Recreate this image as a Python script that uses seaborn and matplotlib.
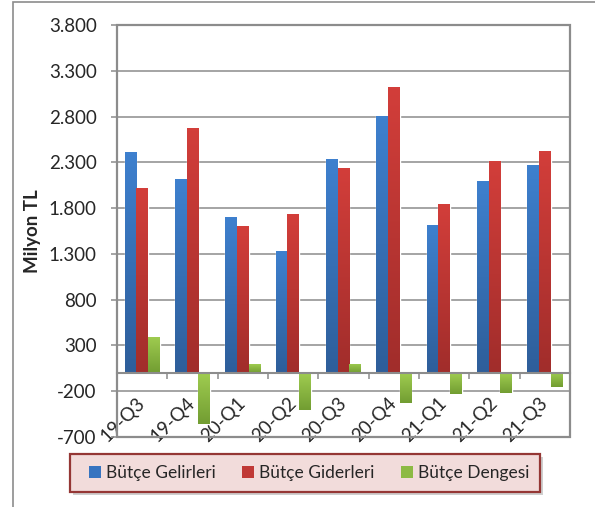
import numpy as np
import pandas as pd
import matplotlib
matplotlib.use("Agg")
import matplotlib.pyplot as plt
from matplotlib.patches import Rectangle, Patch
from matplotlib.colors import LinearSegmentedColormap, to_hex
from matplotlib.ticker import FuncFormatter, FixedLocator
import seaborn as sns

quarters = ["19-Q3", "19-Q4", "20-Q1", "20-Q2", "20-Q3", "20-Q4", "21-Q1", "21-Q2", "21-Q3"]
gelir = [2410, 2115, 1700, 1330, 2333, 2801, 1613, 2093, 2267]
gider = [2015, 2670, 1602, 1733, 2234, 3128, 1842, 2311, 2420]
denge = [395, -555, 98, -403, 99, -327, -229, -218, -153]
series = ["Bütçe Gelirleri", "Bütçe Giderleri", "Bütçe Dengesi"]
colors = ["#3774C0", "#C03936", "#8DBA44"]
# top -> bottom gradient per series
grads = {"#3774c0": ("#3E80CE", "#2E5E9A"),
         "#c03936": ("#D23E3A", "#A12D2B"),
         "#8dba44": ("#9FCC50", "#729D32")}
yticks = list(range(-700, 3801, 500))

df = pd.DataFrame({
    "quarter": quarters * 3,
    "value": gelir + gider + denge,
    "series": [series[0]] * 9 + [series[1]] * 9 + [series[2]] * 9,
})

sns.set_style("white")
plt.rcParams["font.family"] = ["Lato", "DejaVu Sans"]

W, H = 595, 507
fig = plt.figure(figsize=(W / 100, H / 100), dpi=100)
ax = fig.add_axes([117 / W, 1 - 437 / H, 453 / W, 412 / H])

sns.barplot(data=df, x="quarter", y="value", hue="series", palette=colors,
            width=0.7, gap=0, ax=ax, saturation=1, legend=False)

# gradient fill for bars
for bar in list(ax.patches):
    key = to_hex(bar.get_facecolor())
    if key not in grads:
        continue
    x, y = bar.get_x(), bar.get_y()
    w, h = bar.get_width(), bar.get_height()
    y0, y1 = min(y, y + h), max(y, y + h)
    cmap = LinearSegmentedColormap.from_list("g", [grads[key][1], grads[key][0]])
    grad = np.linspace(1, 0, 64).reshape(-1, 1)
    im = ax.imshow(grad, extent=[x, x + w, y0, y1], cmap=cmap, aspect="auto",
                   origin="upper", zorder=bar.get_zorder(), interpolation="bilinear")
    im.set_clip_path(bar)
    bar.set_facecolor("none")

grid_c = "#8C8C8C"
ax.set_ylim(-700, 3800)
ax.set_xlim(-0.5, len(quarters) - 0.5)
ax.set_yticks(yticks)
ax.yaxis.set_major_formatter(FuncFormatter(lambda v, p: f"{v:,.0f}".replace(",", ".")))
ax.grid(axis="y", color=grid_c, lw=1.1)
ax.set_axisbelow(True)

for s in ["left", "top", "right"]:
    ax.spines[s].set_visible(False)
ax.spines["bottom"].set_position(("data", 0))
ax.spines["bottom"].set_color(grid_c)
ax.spines["bottom"].set_linewidth(1.5)
ax.add_patch(Rectangle((0, 0), 1, 1, transform=ax.transAxes, fill=False,
                       edgecolor=grid_c, lw=1.6, clip_on=False, zorder=5))

ax.tick_params(axis="y", length=4.5, width=1.1, color=grid_c, pad=10, labelsize=13.5, left=True)
ax.tick_params(axis="x", which="major", length=0, pad=20, labelsize=13.5)
ax.xaxis.set_minor_locator(FixedLocator(np.arange(0.5, len(quarters) - 1, 1)))
ax.tick_params(axis="x", which="minor", length=4.5, width=1.1, color=grid_c, direction="out", bottom=True)
for lbl in ax.get_xticklabels():
    lbl.set_rotation(45)
    lbl.set_ha("right")
    lbl.set_va("center")
    lbl.set_rotation_mode("anchor")

ax.set_xlabel("")
ax.set_ylabel("Milyon TL", fontsize=13.5, fontweight="bold", labelpad=6)

# outer chart border (partially visible)
fig.patches.append(Rectangle((13 / W, -0.1), 1.2, 1.1 - 1.5 / H, transform=fig.transFigure,
                             fill=False, edgecolor="#8C8C8C", lw=1.2))

# legend box
fig.patches.append(Rectangle((73 / W, 1 - 495 / H), 470 / W, 38 / H, transform=fig.transFigure,
                             facecolor="#B0B0B0", edgecolor="none", alpha=0.6))
fig.patches.append(Rectangle((70 / W, 1 - 492 / H), 470 / W, 38 / H, transform=fig.transFigure,
                             facecolor="#F2DCDB", edgecolor="#953735", lw=1.6))
handles = [Patch(facecolor=c, edgecolor="none") for c in colors]
fig.legend(handles, series, loc="center", bbox_to_anchor=(309 / W, 1 - 473 / H), ncol=3,
           frameon=False, fontsize=12.5, handlelength=0.7, handleheight=0.7,
           handletextpad=0.3, columnspacing=1.5)

fig.savefig("out.png", dpi=100)
